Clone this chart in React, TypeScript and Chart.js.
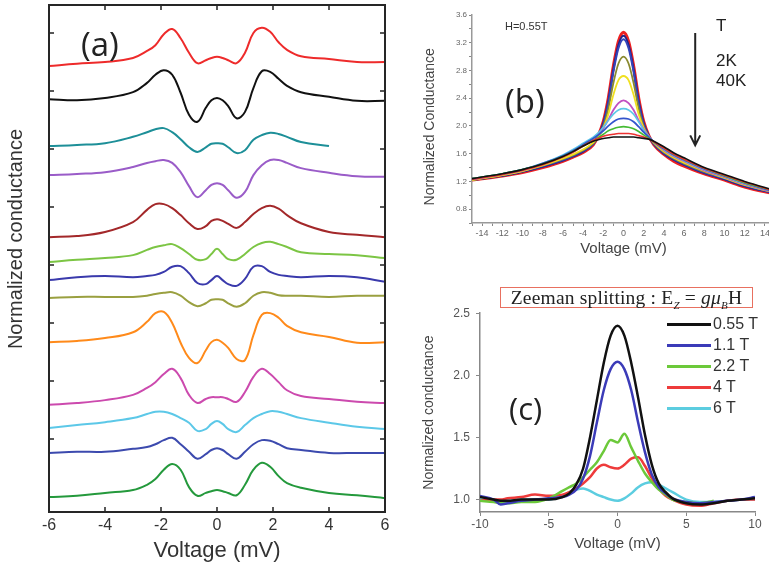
import React, { useEffect, useRef } from "react";
import { Chart, registerables } from "chart.js";
Chart.register(...registerables);

const SANS = "'Liberation Sans', Arial, sans-serif";

// ---------------- Panel (a): stacked tunneling spectra ----------------
const voltageA = [-6, -5, -4, -3, -2.5, -2.2, -1.9, -1.6, -1.3, -1, -0.7, -0.4, -0.2, 0, 0.2, 0.4, 0.7, 1, 1.3, 1.6, 1.9, 2.2, 2.5, 3, 4, 5, 6];
const curveA1 = [6.43, 6.47, 6.50, 6.57, 6.69, 6.79, 6.98, 7.07, 6.91, 6.66, 6.48, 6.53, 6.57, 6.59, 6.57, 6.53, 6.48, 6.66, 7.0, 7.09, 7.02, 6.84, 6.71, 6.60, 6.55, 6.50, 6.50];
const curveA2 = [5.86, 5.84, 5.88, 5.98, 6.14, 6.28, 6.36, 6.28, 5.97, 5.59, 5.47, 5.71, 5.84, 5.88, 5.84, 5.74, 5.53, 5.64, 6.05, 6.34, 6.33, 6.21, 6.09, 5.98, 5.90, 5.83, 5.83];
const curveA3 = [5.05, 5.07, 5.10, 5.21, 5.29, 5.34, 5.36, 5.29, 5.17, 5.03, 4.95, 5.03, 5.09, 5.10, 5.09, 5.03, 4.93, 4.98, 5.16, 5.24, 5.28, 5.26, 5.21, 5.12, 5.05, null, null];
const curveA4 = [4.55, 4.57, 4.60, 4.69, 4.76, 4.79, 4.81, 4.76, 4.60, 4.36, 4.17, 4.29, 4.38, 4.41, 4.38, 4.29, 4.16, 4.26, 4.55, 4.72, 4.81, 4.81, 4.76, 4.67, 4.59, 4.53, 4.52];
const curveA5 = [3.48, 3.50, 3.57, 3.74, 3.95, 4.05, 4.05, 3.98, 3.86, 3.72, 3.62, 3.67, 3.76, 3.79, 3.76, 3.71, 3.64, 3.74, 3.88, 3.98, 4.02, 3.97, 3.86, 3.72, 3.57, 3.52, 3.48];
const curveA6 = [3.05, 3.09, 3.12, 3.17, 3.26, 3.31, 3.34, 3.36, 3.29, 3.19, 3.09, 3.10, 3.19, 3.28, 3.19, 3.10, 3.09, 3.19, 3.31, 3.38, 3.40, 3.36, 3.31, 3.22, 3.19, 3.17, 3.12];
const curveA7 = [2.74, 2.79, 2.81, 2.79, 2.81, 2.83, 2.88, 2.97, 2.98, 2.86, 2.69, 2.67, 2.74, 2.81, 2.74, 2.67, 2.64, 2.76, 2.97, 2.98, 2.88, 2.83, 2.81, 2.79, 2.81, 2.79, 2.71];
const curveA8 = [2.43, 2.45, 2.45, 2.45, 2.47, 2.50, 2.52, 2.53, 2.47, 2.36, 2.29, 2.34, 2.40, 2.41, 2.40, 2.34, 2.28, 2.34, 2.47, 2.53, 2.52, 2.48, 2.47, 2.47, 2.45, 2.47, 2.47];
const curveA9 = [1.67, 1.69, 1.74, 1.84, 2.02, 2.17, 2.19, 2.00, 1.66, 1.40, 1.31, 1.53, 1.67, 1.71, 1.66, 1.57, 1.38, 1.36, 1.79, 2.14, 2.17, 2.09, 1.95, 1.84, 1.76, 1.66, 1.67];
const curveA10 = [0.59, 0.62, 0.67, 0.76, 0.88, 0.98, 1.12, 1.21, 1.05, 0.76, 0.62, 0.69, 0.72, 0.72, 0.72, 0.69, 0.64, 0.81, 1.07, 1.21, 1.12, 0.98, 0.84, 0.74, 0.69, 0.64, 0.62];
const curveA11 = [0.19, 0.24, 0.29, 0.36, 0.43, 0.47, 0.47, 0.43, 0.36, 0.28, 0.14, 0.17, 0.26, 0.31, 0.26, 0.17, 0.12, 0.24, 0.36, 0.43, 0.48, 0.47, 0.43, 0.36, 0.28, 0.21, 0.17];
const curveA12 = [-0.24, -0.22, -0.22, -0.17, -0.14, -0.09, -0.02, 0.02, -0.09, -0.22, -0.34, -0.26, -0.19, -0.16, -0.19, -0.26, -0.34, -0.22, -0.09, -0.02, -0.03, -0.09, -0.16, -0.19, -0.24, -0.24, -0.24];
const curveA13 = [-1.0, -0.98, -0.93, -0.88, -0.79, -0.69, -0.53, -0.43, -0.53, -0.83, -0.98, -0.93, -0.90, -0.88, -0.90, -0.93, -0.97, -0.79, -0.53, -0.41, -0.48, -0.64, -0.76, -0.84, -0.93, -0.97, -1.02];
const curvesA = [curveA1, curveA2, curveA3, curveA4, curveA5, curveA6, curveA7, curveA8, curveA9, curveA10, curveA11, curveA12, curveA13];
const colorsA = ["#ee2b2b", "#111111", "#1d8f98", "#9a5cc8", "#a3282a", "#7cc544", "#3a3aac", "#9aa040", "#ff8a1a", "#cc4aae", "#5cc8e8", "#3c4aae", "#24993c"];
const ticksA_x = [-6, -4, -2, 0, 2, 4, 6];
const ticksA_y = [0, 1, 2, 3, 4, 5, 6, 7];

// ---------------- Panel (b): temperature dependence ----------------
const voltageB = [-15, -12, -10, -8, -6, -5, -4, -3, -2.5, -2, -1.5, -1, -0.5, 0, 0.5, 1, 1.5, 2, 2.5, 3, 4, 5, 6, 8, 10, 12, 15];
const curveB_black = [1.24, 1.31, 1.37, 1.45, 1.56, 1.63, 1.71, 1.78, 1.80, 1.82, 1.83, 1.84, 1.84, 1.84, 1.84, 1.84, 1.83, 1.82, 1.81, 1.78, 1.70, 1.61, 1.54, 1.40, 1.30, 1.20, 1.07];
const curveB_red = [1.23, 1.30, 1.36, 1.44, 1.55, 1.62, 1.71, 1.79, 1.82, 1.85, 1.87, 1.88, 1.89, 1.89, 1.89, 1.88, 1.86, 1.84, 1.81, 1.77, 1.68, 1.59, 1.52, 1.39, 1.29, 1.19, 1.06];
const curveB_green = [1.24, 1.31, 1.37, 1.45, 1.56, 1.63, 1.71, 1.79, 1.83, 1.88, 1.93, 1.96, 1.98, 1.99, 1.98, 1.96, 1.92, 1.87, 1.82, 1.77, 1.68, 1.59, 1.52, 1.39, 1.28, 1.18, 1.06];
const curveB_blue = [1.24, 1.31, 1.37, 1.46, 1.57, 1.64, 1.73, 1.82, 1.87, 1.93, 2.0, 2.06, 2.10, 2.11, 2.10, 2.06, 1.99, 1.91, 1.84, 1.77, 1.67, 1.58, 1.51, 1.38, 1.28, 1.18, 1.05];
const curveB_cyan = [1.23, 1.31, 1.37, 1.46, 1.58, 1.66, 1.75, 1.84, 1.90, 1.98, 2.08, 2.17, 2.23, 2.25, 2.23, 2.17, 2.06, 1.94, 1.84, 1.77, 1.66, 1.57, 1.50, 1.37, 1.27, 1.17, 1.05];
const curveB_magenta = [1.23, 1.30, 1.36, 1.45, 1.57, 1.64, 1.72, 1.82, 1.88, 1.97, 2.09, 2.23, 2.33, 2.37, 2.33, 2.23, 2.08, 1.95, 1.85, 1.77, 1.65, 1.56, 1.49, 1.36, 1.26, 1.16, 1.04];
const curveB_yellow = [1.22, 1.29, 1.35, 1.43, 1.53, 1.59, 1.66, 1.76, 1.84, 1.97, 2.17, 2.45, 2.66, 2.72, 2.66, 2.45, 2.17, 1.97, 1.85, 1.76, 1.63, 1.54, 1.47, 1.35, 1.25, 1.15, 1.04];
const curveB_olive = [1.22, 1.29, 1.35, 1.43, 1.52, 1.58, 1.65, 1.75, 1.84, 1.99, 2.25, 2.62, 2.90, 3.00, 2.90, 2.62, 2.25, 1.99, 1.85, 1.75, 1.62, 1.53, 1.46, 1.34, 1.25, 1.15, 1.04];
const curveB_blue2 = [1.23, 1.29, 1.35, 1.42, 1.51, 1.57, 1.64, 1.74, 1.85, 2.02, 2.33, 2.78, 3.12, 3.25, 3.12, 2.78, 2.33, 2.02, 1.85, 1.74, 1.61, 1.52, 1.45, 1.33, 1.24, 1.14, 1.03];
const curveB_navy = [1.22, 1.28, 1.34, 1.41, 1.50, 1.56, 1.63, 1.74, 1.86, 2.04, 2.36, 2.82, 3.17, 3.30, 3.17, 2.82, 2.36, 2.04, 1.86, 1.74, 1.60, 1.51, 1.44, 1.32, 1.23, 1.13, 1.03];
const curveB_red2 = [1.22, 1.28, 1.33, 1.40, 1.49, 1.55, 1.62, 1.73, 1.86, 2.06, 2.40, 2.86, 3.22, 3.35, 3.22, 2.86, 2.40, 2.06, 1.86, 1.73, 1.59, 1.49, 1.42, 1.31, 1.22, 1.12, 1.02];
const curvesB = [curveB_black, curveB_red, curveB_green, curveB_blue, curveB_cyan, curveB_magenta, curveB_yellow, curveB_olive, curveB_blue2, curveB_navy, curveB_red2];
const colorsB = ["#111111", "#ee3333", "#44bb33", "#3355cc", "#5cc8e8", "#c050c0", "#f0e020", "#8a8a30", "#3344bb", "#222288", "#ee2020"];
const widthsB = [1.6, 1.6, 1.6, 1.8, 1.6, 1.8, 1.8, 1.8, 2, 2, 3.2];
const arrowB = { v: 7.1, from: 3.34, to: 1.72 };

// ---------------- Panel (c): field dependence ----------------
const voltageC = [-10, -9, -8.5, -8, -7, -6, -5, -4, -3.5, -3, -2.5, -2, -1.5, -1, -0.5, 0, 0.5, 1, 1.5, 2, 2.5, 3, 3.5, 4, 5, 6, 7, 8, 9, 10];
const curveC_055 = [1.02, 1.0, 0.99, 0.99, 1.0, 1.0, 1.0, 1.02, 1.05, 1.12, 1.25, 1.5, 1.8, 2.1, 2.32, 2.4, 2.32, 2.1, 1.82, 1.52, 1.28, 1.13, 1.06, 1.01, 0.97, 0.96, 0.97, 0.99, 1.0, 1.01];
const curveC_11 = [1.03, 1.0, 0.96, 0.97, 0.99, 1.0, 1.01, 1.02, 1.04, 1.08, 1.17, 1.35, 1.62, 1.88, 2.05, 2.11, 2.05, 1.88, 1.62, 1.38, 1.2, 1.1, 1.05, 1.01, 0.98, 0.97, 0.98, 0.99, 1.0, 1.02];
const curveC_22 = [0.99, 0.98, 0.97, 0.97, 0.98, 0.98, 1.01, 1.07, 1.1, 1.13, 1.18, 1.24, 1.3, 1.39, 1.48, 1.46, 1.53, 1.42, 1.31, 1.21, 1.14, 1.08, 1.04, 1.0, 0.98, 0.97, 0.99, null, null, null];
const curveC_4 = [0.99, 1.0, 1.0, 1.01, 1.02, 1.04, 1.03, 1.04, 1.06, 1.09, 1.13, 1.18, 1.25, 1.28, 1.26, 1.25, 1.28, 1.33, 1.34, 1.27, 1.17, 1.09, 1.03, 1.0, 0.96, 0.95, 0.97, 0.99, 1.0, 1.0];
const curveC_6 = [1.0, 0.99, 0.99, 0.99, 1.0, 1.0, 1.0, 1.03, 1.06, 1.08, 1.09, 1.07, 1.04, 1.02, 1.0, 0.99, 1.01, 1.05, 1.1, 1.13, 1.14, 1.12, 1.09, 1.06, 1.0, 0.98, 0.98, 0.99, 1.0, 1.0];
const labelsC = ["0.55 T", "1.1 T", "2.2 T", "4 T", "6 T"];
const curvesC = [curveC_055, curveC_11, curveC_22, curveC_4, curveC_6];
const colorsC = ["#111111", "#3b3bb8", "#6cc93a", "#ee3b3b", "#5ccde0"];
const ticksC_x = [-10, -5, 0, 5, 10];
const ticksC_y = [1.0, 1.5, 2.0, 2.5];

function pts(xs: number[], ys: (number | null)[]) {
  return xs.map((x, i) => ({ x, y: ys[i] }));
}
const fixedTicks = (vals: number[]) => (s: any) => { s.ticks = vals.map((v) => ({ value: v })); };

const frameTicksPlugin = {
  id: "frameTicks",
  afterDatasetsDraw(chart: any) {
    const { ctx, chartArea, scales } = chart;
    const { left, right, top, bottom } = chartArea;
    const x = scales.x, y = scales.y;
    ctx.save();
    ctx.strokeStyle = "#222";
    ctx.lineWidth = 1.5;
    ctx.beginPath();
    x.ticks.forEach((t: any) => {
      const px = x.getPixelForValue(t.value);
      if (px <= left + 2 || px >= right - 2) return;
      ctx.moveTo(px, bottom); ctx.lineTo(px, bottom - 5);
      ctx.moveTo(px, top); ctx.lineTo(px, top + 5);
    });
    y.ticks.forEach((t: any) => {
      const py = y.getPixelForValue(t.value);
      if (py <= top + 2 || py >= bottom - 2) return;
      ctx.moveTo(left, py); ctx.lineTo(left + 5, py);
      ctx.moveTo(right, py); ctx.lineTo(right - 5, py);
    });
    ctx.stroke();
    ctx.lineWidth = 2;
    ctx.strokeStyle = "#262626";
    ctx.strokeRect(left, top, right - left, bottom - top);
    ctx.restore();
  },
};

const arrowPlugin = {
  id: "tempArrow",
  afterDatasetsDraw(chart: any) {
    const { ctx, scales } = chart;
    const px = scales.x.getPixelForValue(arrowB.v);
    const y1 = scales.y.getPixelForValue(arrowB.from);
    const y2 = scales.y.getPixelForValue(arrowB.to);
    ctx.save();
    ctx.strokeStyle = "#222";
    ctx.lineWidth = 2;
    ctx.beginPath();
    ctx.moveTo(px, y1); ctx.lineTo(px, y2);
    ctx.moveTo(px - 5, y2 - 10); ctx.lineTo(px, y2); ctx.lineTo(px + 5, y2 - 10);
    ctx.stroke();
    ctx.restore();
  },
};

function configA(): any {
  return {
    type: "line",
    data: {
      datasets: curvesA.map((c, i) => ({
        data: pts(voltageA, c),
        borderColor: colorsA[i],
        borderWidth: 2,
        pointRadius: 0,
        fill: false,
        tension: 0.4,
      })),
    },
    options: {
      animation: false,
      responsive: false,
      devicePixelRatio: 1,
      layout: { padding: { top: 5, right: 15, left: 0, bottom: 0 } },
      plugins: { legend: { display: false }, tooltip: { enabled: false } },
      scales: {
        x: {
          type: "linear", min: -6, max: 6,
          afterBuildTicks: fixedTicks(ticksA_x),
          ticks: { color: "#333", font: { family: SANS, size: 16 }, padding: 4, autoSkip: false, maxRotation: 0 },
          grid: { display: false, drawTicks: false },
          border: { display: false },
          title: { display: true, text: "Voltage (mV)", color: "#333", font: { family: SANS, size: 22 }, padding: { top: 0, bottom: 1 } },
          afterFit: (s: any) => { s.height = 53; },
        },
        y: {
          type: "linear", min: -1.259, max: 7.483, bounds: "data",
          afterBuildTicks: fixedTicks(ticksA_y),
          ticks: { display: false },
          grid: { display: false, drawTicks: false },
          border: { display: false },
          title: { display: true, text: "       Normalized conductance", color: "#333", font: { family: SANS, size: 20 }, padding: { top: 4, bottom: 0 } },
          afterFit: (s: any) => { s.width = 49; },
        },
      },
    },
    plugins: [frameTicksPlugin],
  };
}

function configB(): any {
  return {
    type: "line",
    data: {
      datasets: curvesB.map((c, i) => ({
        data: pts(voltageB, c),
        borderColor: colorsB[i],
        borderWidth: widthsB[i],
        pointRadius: 0,
        fill: false,
        cubicInterpolationMode: "monotone",
      })),
    },
    options: {
      animation: false,
      responsive: false,
      devicePixelRatio: 1,
      layout: { padding: { top: 15, right: 5, left: 0, bottom: 0 } },
      plugins: { legend: { display: false }, tooltip: { enabled: false } },
      scales: {
        x: {
          type: "linear", min: -15, max: 15,
          ticks: {
            stepSize: 1, autoSkip: false, maxRotation: 0, color: "#666", font: { family: SANS, size: 9 }, padding: 2,
            callback: (v: number) => (v % 2 === 0 && Math.abs(v) <= 14 ? String(v) : ""),
          },
          grid: { drawOnChartArea: false, tickLength: 3, color: "#888" },
          border: { color: "#999", width: 1.5 },
          title: { display: true, text: "Voltage (mV)", color: "#444", font: { family: SANS, size: 15 }, padding: { top: 0, bottom: 4 } },
          afterFit: (s: any) => { s.height = 39; },
        },
        y: {
          type: "linear", min: 0.6, max: 3.6,
          ticks: {
            stepSize: 0.2, autoSkip: false, color: "#666", font: { family: SANS, size: 8 }, padding: 2,
            callback: (v: number) => { const k = Math.round(v * 10); return k % 4 === 0 && k >= 8 ? v.toFixed(1) : ""; },
          },
          grid: { drawOnChartArea: false, tickLength: 3, color: "#888" },
          border: { color: "#999", width: 1.5 },
          title: { display: true, text: "Normalized Conductance    ", color: "#444", font: { family: SANS, size: 14 }, padding: { top: 2, bottom: 0 } },
          afterFit: (s: any) => { s.width = 52; },
        },
      },
    },
    plugins: [arrowPlugin],
  };
}

function configC(): any {
  return {
    type: "line",
    data: {
      datasets: curvesC.map((c, i) => ({
        label: labelsC[i],
        data: pts(voltageC, c),
        borderColor: colorsC[i],
        borderWidth: 2.5,
        pointRadius: 0,
        fill: false,
        cubicInterpolationMode: "monotone",
      })),
    },
    options: {
      animation: false,
      responsive: false,
      devicePixelRatio: 1,
      layout: { padding: { top: 13, right: 14, left: 0, bottom: 0 } },
      plugins: { legend: { display: false }, tooltip: { enabled: false } },
      scales: {
        x: {
          type: "linear", min: -10, max: 10,
          afterBuildTicks: fixedTicks(ticksC_x),
          ticks: { autoSkip: false, maxRotation: 0, color: "#555", font: { family: SANS, size: 12 }, padding: 1 },
          grid: { drawOnChartArea: false, tickLength: 4, color: "#888" },
          border: { color: "#888", width: 1.5 },
          title: { display: true, text: "Voltage (mV)", color: "#444", font: { family: SANS, size: 15 }, padding: { top: 0, bottom: 12 } },
          afterFit: (s: any) => { s.height = 53; },
        },
        y: {
          type: "linear", min: 0.9, max: 2.5, bounds: "data",
          afterBuildTicks: fixedTicks(ticksC_y),
          ticks: { autoSkip: false, color: "#555", font: { family: SANS, size: 12 }, padding: 6,
            callback: (v: number) => v.toFixed(1) },
          grid: { drawOnChartArea: false, tickLength: 4, color: "#888" },
          border: { color: "#888", width: 1.5 },
          title: { display: true, text: "Normalized conductance", color: "#444", font: { family: SANS, size: 14 }, padding: { top: 1, bottom: 0 } },
          afterFit: (s: any) => { s.width = 60; },
        },
      },
    },
  };
}

function ChartCanvas({ make, left, top, width, height }: any) {
  const ref = useRef<HTMLCanvasElement | null>(null);
  useEffect(() => {
    const chart = new Chart(ref.current as HTMLCanvasElement, make());
    return () => chart.destroy();
  }, []);
  return (
    <canvas ref={ref} width={width} height={height}
      style={{ position: "absolute", left, top, width, height, display: "block" }} />
  );
}

const abs = (left: number, top: number, extra: any = {}) => ({ position: "absolute" as const, left, top, whiteSpace: "nowrap" as const, ...extra });

export default function App() {
  const legendRows = [324, 345, 366, 387, 408];
  const subStyle = { fontSize: 11, fontStyle: "italic" as const, lineHeight: 0 };
  return (
    <div style={{ position: "fixed", left: 0, top: 0, width: 769, height: 565, overflow: "hidden", background: "#fff", fontFamily: SANS }}>
      <ChartCanvas make={configA} left={0} top={0} width={400} height={565} />
      <ChartCanvas make={configB} left={420} top={0} width={360} height={262} />
      <ChartCanvas make={configC} left={420} top={300} width={349} height={265} />

      <div style={abs(81, 24, { fontSize: 33, lineHeight: "40px", color: "#222", fontFamily: "'Open Sans', sans-serif" })}>(a)</div>
      <div style={abs(505, 81, { fontSize: 33, lineHeight: "40px", color: "#222", fontFamily: "'Open Sans', sans-serif" })}>(b)</div>
      <div style={abs(509, 388, { fontSize: 31, lineHeight: "40px", color: "#222", fontFamily: "'Open Sans', sans-serif" })}>(c)</div>

      <div style={abs(505, 20, { fontSize: 11, lineHeight: "13px", color: "#333" })}>H=0.55T</div>
      <div style={abs(716, 16, { fontSize: 17, lineHeight: "20px", color: "#222" })}>T</div>
      <div style={abs(716, 51, { fontSize: 17, lineHeight: "20px", color: "#222" })}>2K</div>
      <div style={abs(716, 71, { fontSize: 17, lineHeight: "20px", color: "#222" })}>40K</div>

      <div style={abs(500, 287, { width: 251, height: 19, boxSizing: "content-box", border: "1.5px solid #e87060", fontFamily: "'Liberation Serif', 'Times New Roman', serif", fontSize: 19.5, lineHeight: "19px", color: "#222", textAlign: "center", letterSpacing: "0.2px" })}>
        Zeeman splitting : E<sub style={subStyle}>Z</sub> = <i>gμ</i><sub style={subStyle}>B</sub>H
      </div>

      {labelsC.map((lab, i) => (
        <div key={lab}>
          <div style={abs(667, legendRows[i] - 1.5, { width: 44, height: 3, background: colorsC[i] })} />
          <div style={abs(713, legendRows[i] - 10, { fontSize: 16, lineHeight: "20px", color: "#333" })}>{lab}</div>
        </div>
      ))}
    </div>
  );
}
